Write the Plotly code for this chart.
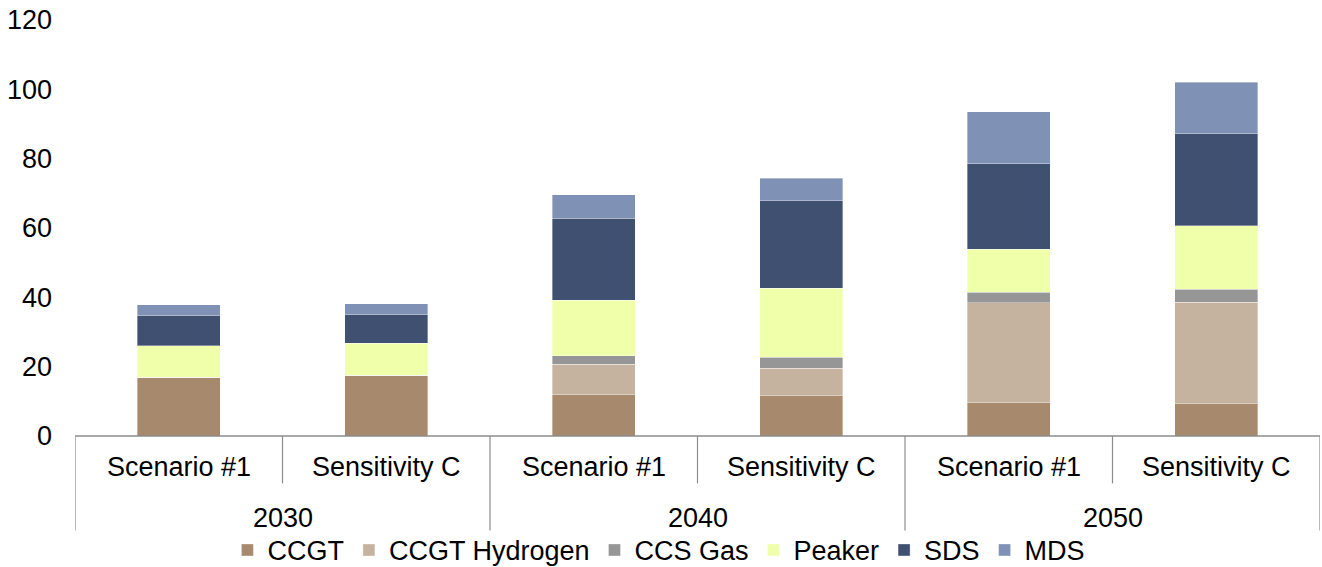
import plotly.graph_objects as go

years = ["2030", "2030", "2040", "2040", "2050", "2050"]
scenarios = ["Scenario #1", "Sensitivity C", "Scenario #1", "Sensitivity C", "Scenario #1", "Sensitivity C"]
year_labels = ["2030", "2040", "2050"]

ccgt = [17.0, 17.5, 12.1, 11.7, 9.7, 9.4]
ccgt_h2 = [0, 0, 8.6, 7.8, 28.8, 29.2]
ccs_gas = [0, 0, 2.5, 3.2, 2.9, 3.7]
peaker = [9.1, 9.2, 16.0, 19.9, 12.5, 18.3]
sds = [8.7, 8.3, 23.6, 25.3, 24.7, 26.6]
mds = [3.0, 3.2, 6.8, 6.5, 14.9, 14.8]

series_names = ["CCGT", "CCGT Hydrogen", "CCS Gas", "Peaker", "SDS", "MDS"]
series_values = [ccgt, ccgt_h2, ccs_gas, peaker, sds, mds]
series_colors = ["#A78A6E", "#C5B3A0", "#969696", "#F0FFAA", "#3F5070", "#7F91B5"]

FONT = "Liberation Sans, Arial, sans-serif"
FS = 27
xpos = list(range(len(scenarios)))

fig = go.Figure()
for name, vals, col in zip(series_names, series_values, series_colors):
    fig.add_trace(go.Bar(
        x=xpos, y=vals, name=name, width=0.4,
        marker=dict(color=col, line=dict(color="rgba(255,255,255,0.45)", width=0.8)),
    ))

line_col = "#8C8C8C"
shapes = []
# scenario dividers (short)
for i in range(len(scenarios) - 1):
    if years[i] == years[i + 1]:
        shapes.append(dict(type="line", xref="x", yref="paper", x0=i + 0.5, x1=i + 0.5,
                           y0=0, y1=-0.114, line=dict(color=line_col, width=1.2)))
# year dividers (long), including outer edges
bounds = [-0.5] + [i + 0.5 for i in range(len(years) - 1) if years[i] != years[i + 1]] + [len(years) - 0.5]
for b in bounds:
    shapes.append(dict(type="line", xref="x", yref="paper", x0=b, x1=b,
                       y0=0, y1=-0.227, line=dict(color=line_col, width=1.2)))
shapes.append(dict(type="line", xref="x", yref="paper", x0=-0.5, x1=len(years) - 0.5,
                   y0=0, y1=0, line=dict(color=line_col, width=1.5)))

annotations = []
for i, s in enumerate(scenarios):
    annotations.append(dict(x=i, y=-0.0757, xref="x", yref="paper", text=s, showarrow=False,
                            xanchor="center", yanchor="middle",
                            font=dict(family=FONT, size=FS, color="#000000")))
for k, yl in enumerate(year_labels):
    idx = [i for i, y in enumerate(years) if y == yl]
    annotations.append(dict(x=sum(idx) / len(idx), y=-0.197, xref="x", yref="paper", text=yl,
                            showarrow=False, xanchor="center", yanchor="middle",
                            font=dict(family=FONT, size=FS, color="#000000")))

fig.update_layout(
    barmode="stack",
    width=1322, height=567,
    margin=dict(l=75, r=2, t=20, b=131, autoexpand=False),
    paper_bgcolor="white", plot_bgcolor="white",
    font=dict(family=FONT, size=FS, color="#000000"),
    xaxis=dict(range=[-0.5, len(scenarios) - 0.5], showticklabels=False, showgrid=False,
               zeroline=False, showline=False, ticks=""),
    yaxis=dict(range=[0, 120], dtick=20, showgrid=False, zeroline=False, showline=False,
               ticks="", ticklabelstandoff=22, tickfont=dict(family=FONT, size=FS, color="#000000")),
    legend=dict(orientation="h", x=0.469, xanchor="center", y=-0.275, yanchor="middle",
                font=dict(family=FONT, size=FS, color="#000000"), itemwidth=30,
                bgcolor="rgba(0,0,0,0)", traceorder="normal"),
    shapes=shapes,
    annotations=annotations,
    bargap=0.6,
)

fig.write_html("out.html", config={"displayModeBar": False},
               post_script="document.body.style.margin='0px';document.body.style.overflow='hidden';")
